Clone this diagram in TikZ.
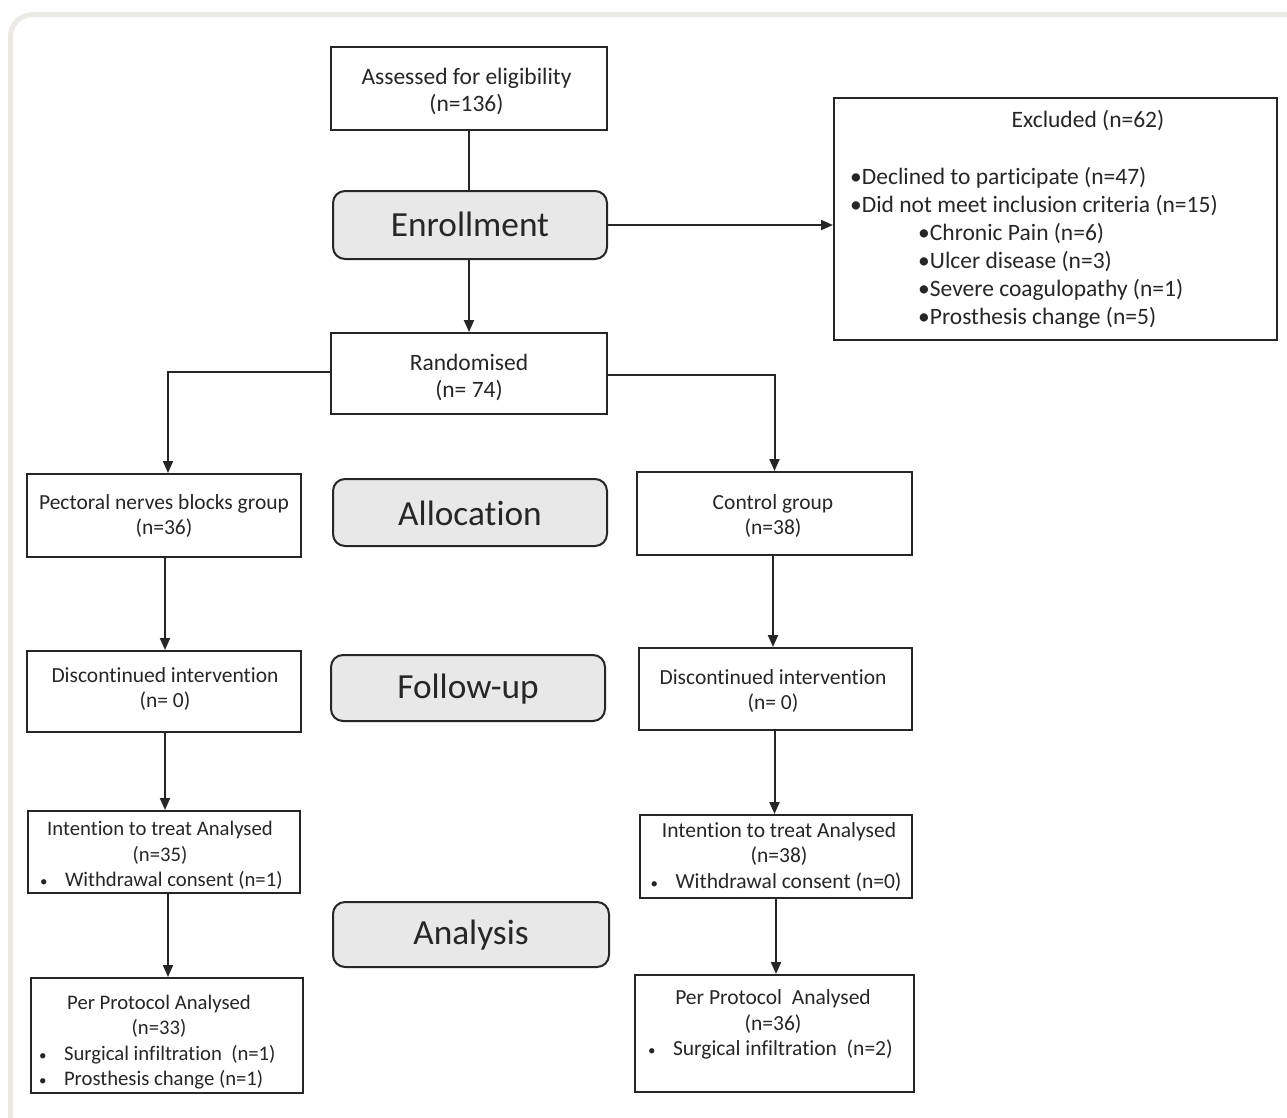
\documentclass[tikz,border=0pt]{standalone}
\usepackage{fontspec}
\setmainfont{Carlito}[Ligatures={NoCommon,NoRare}]
\usetikzlibrary{arrows.meta}
\definecolor{ink}{HTML}{262626}
\definecolor{phase}{HTML}{E8E8E8}
\definecolor{framec}{HTML}{EAE9E4}
% bullet line: #1 total width, #2 text
\newcommand{\bulline}[2]{\makebox[#1][l]{\makebox[25pt][l]{{\fontsize{15}{15}\selectfont •}}#2}}
\begin{document}
\begin{tikzpicture}[x=1pt,y=-1pt,
  box/.style={draw=ink, line width=2pt, fill=white, inner sep=0pt},
  phasebox/.style={draw=ink, line width=2pt, fill=phase, rounded corners=12pt, inner sep=0pt},
  txt/.style={text=ink, font=\fontsize{21.5}{25.5}\selectfont, align=center, inner sep=0pt},
  smalltxt/.style={text=ink, font=\fontsize{20.7}{25.3}\selectfont, align=center, inner sep=0pt},
  toptxt/.style={text=ink, font=\fontsize{23.5}{27}\selectfont, align=center, inner sep=0pt},
  listtxt/.style={text=ink, font=\fontsize{23.5}{28}\selectfont, align=left, inner sep=0pt},
  bigtxt/.style={text=black!85, font=\fontsize{35.3}{40}\selectfont, inner sep=0pt},
  arr/.style={draw=ink, line width=2pt, -{Triangle[length=12pt,width=10pt]}},
  conn/.style={draw=ink, line width=2pt}]
\useasboundingbox (0,0) rectangle (1287,1117);
\fill[white] (0,0) rectangle (1287,1117);
\draw[framec, line width=5pt, rounded corners=22pt] (10.5,14.5) rectangle (1330,1160);

% boxes
\node[box, minimum width=276, minimum height=83] (assess) at (469,88.5) {};
\node[phasebox, minimum width=274, minimum height=68] (enrol) at (470,225) {};
\node[box, minimum width=443, minimum height=242] (excl) at (1055.5,219) {};
\node[box, minimum width=276, minimum height=81] (rand) at (469,373.5) {};
\node[box, minimum width=274, minimum height=83] (pect) at (164,515.5) {};
\node[phasebox, minimum width=274, minimum height=67] (alloc) at (470,512.5) {};
\node[box, minimum width=275, minimum height=83] (ctrl) at (774.5,513.5) {};
\node[box, minimum width=274, minimum height=81] (discL) at (164,691.5) {};
\node[phasebox, minimum width=274, minimum height=66] (follow) at (468,688) {};
\node[box, minimum width=273, minimum height=82] (discR) at (775.5,689) {};
\node[box, minimum width=272, minimum height=82] (ittL) at (164,852) {};
\node[box, minimum width=272, minimum height=83] (ittR) at (776,856.5) {};
\node[phasebox, minimum width=276, minimum height=65] (analysis) at (471,934.5) {};
\node[box, minimum width=272, minimum height=115] (ppL) at (167,1035.5) {};
\node[box, minimum width=279, minimum height=117] (ppR) at (774.5,1033.5) {};

% texts
\node[toptxt] (assessT) at (466.5,91) {Assessed for eligibility\\(n=136)};
\node[bigtxt] (enrolT) at (470,224) {Enrollment};
\node[toptxt] (exclT) at (1088,121) {Excluded (n=62)};
\node[listtxt, anchor=north west] (exclL) at (850,167.5) {•Declined to participate (n=47)\\
•Did not meet inclusion criteria (n=15)\\
\hspace*{68pt}•Chronic Pain (n=6)\\
\hspace*{68pt}•Ulcer disease (n=3)\\
\hspace*{68pt}•Severe coagulopathy (n=1)\\
\hspace*{68pt}•Prosthesis change (n=5)};
\node[toptxt] (randT) at (469,377) {Randomised\\(n= 74)};
\node[txt] (pectT) at (164,516) {Pectoral nerves blocks group\\(n=36)};
\node[bigtxt] (allocT) at (470,513) {Allocation};
\node[txt] (ctrlT) at (773,516) {Control group\\(n=38)};
\node[txt] (discLT) at (165,689) {Discontinued intervention\\(n= 0)};
\node[bigtxt] (followT) at (468,689) {Follow-up};
\node[txt] (discRT) at (773,691) {Discontinued intervention\\(n= 0)};
\node[smalltxt] (ittLT) at (160,855.5) {Intention to treat Analysed\\(n=35)\\
\bulline{240pt}{Withdrawal consent (n=1)}};
\node[txt] (ittRT) at (779,857) {Intention to treat Analysed\\(n=38)\\
\bulline{257pt}{Withdrawal consent (n=0)}};
\node[bigtxt] (analysisT) at (471,935) {Analysis};
\node[smalltxt] (ppLT) at (159,1042) {Per Protocol Analysed\\(n=33)\\
\bulline{240pt}{Surgical infiltration\ \ (n=1)}\\
\bulline{240pt}{Prosthesis change (n=1)}};
\node[txt] (ppRT) at (773,1024.5) {Per Protocol\ \ Analysed\\(n=36)\\
\bulline{250pt}{Surgical infiltration\ \ (n=2)}};

% connectors
\draw[conn] (assess.south) -- (assess.south |- enrol.north);
\draw[arr] (enrol.east) -- (enrol.east -| excl.west);
\draw[arr] ([xshift=-1pt]enrol.south) -- ([xshift=-1pt]enrol.south |- rand.north);
\draw[arr] ([yshift=1.5pt]rand.west) -| ([xshift=4pt]pect.north);
\draw[arr] ([yshift=-1.5pt]rand.east) -| (ctrl.north);
\draw[arr] ([xshift=1pt]pect.south) -- ([xshift=1pt]pect.south |- discL.north);
\draw[arr] ([xshift=-1.5pt]ctrl.south) -- ([xshift=-1.5pt]ctrl.south |- discR.north);
\draw[arr] ([xshift=1pt]discL.south) -- ([xshift=1pt]discL.south |- ittL.north);
\draw[arr] ([xshift=-1pt]discR.south) -- ([xshift=-1pt]discR.south |- ittR.north);
\draw[arr] ([xshift=4pt]ittL.south) -- ([xshift=4pt]ittL.south |- ppL.north);
\draw[arr] (ittR.south) -- (ittR.south |- ppR.north);
\end{tikzpicture}
\end{document}
